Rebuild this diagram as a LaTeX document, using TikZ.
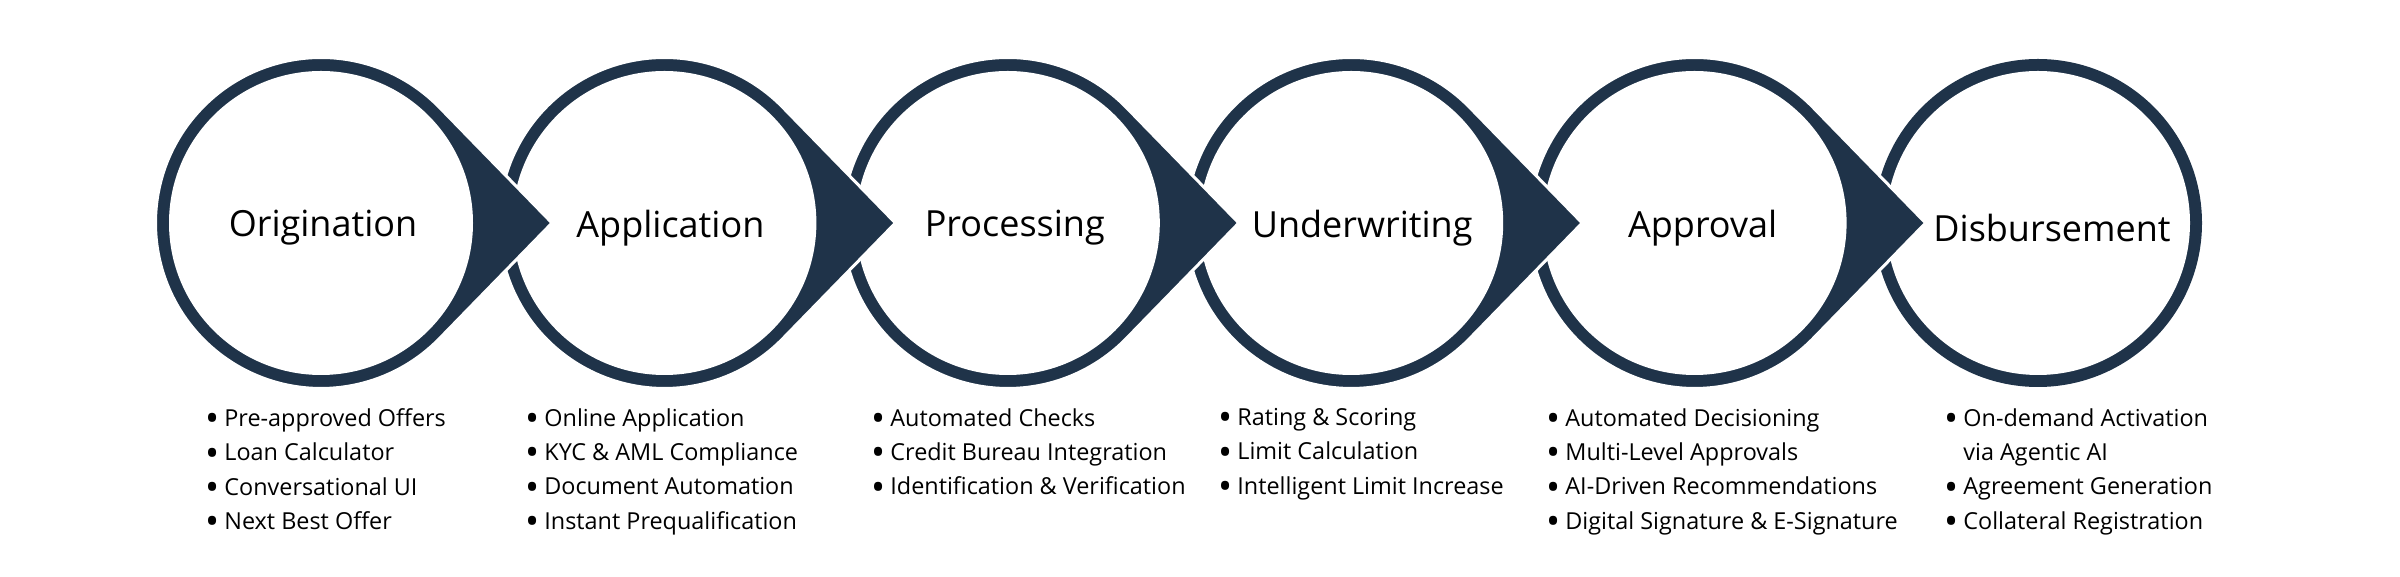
\documentclass[tikz,border=0pt]{standalone}
\usepackage{fontspec}
\setmainfont{Open Sans}
\usepackage{xcolor}
\usepackage{tikz}
\usetikzlibrary{calc,positioning}
\definecolor{navy}{HTML}{1F3349}
\newcommand{\Stage}{\fontsize{18}{22}\selectfont}
\newcommand{\Small}{\fontsize{11.7}{17.2}\selectfont}
\newcommand{\bul}{\makebox[9.5pt][l]{\raisebox{-0.23em}{\scalebox{1.6}{\textbullet}}}}

\begin{document}
\begin{tikzpicture}[x=0.5pt,y=0.5pt]
  \useasboundingbox (0,0) rectangle (2400,577);
  % rings right to left, so each arrow lies over the next ring
  \foreach \i/\nm/\lbl/\dx in {5/disb/Disbursement/14, 4/appr/Approval/8, 3/undw/Underwriting/11,
                               2/proc/Processing/7, 1/appl/Application/6, 0/orig/Origination/2}{
    \coordinate (c\i) at (321+\i*343.4,354);
    \ifnum\i<5
      \filldraw[navy, draw=white, line width=1.5pt] ($(c\i)+(231,0)$) -- ($(c\i)+(44.77:165.5)$)
        arc[start angle=44.77, end angle=315.23, radius=165.5] -- cycle;
    \else
      \fill[navy] (c\i) circle[radius=164];
    \fi
    \fill[white] (c\i) circle[radius=152];
    \node[font=\Stage] (\nm) at ($(c\i)+(\dx,-5)$) {\lbl};
  }
  % bullet lists
  \node[anchor=north west, inner sep=0, font=\Small, align=left] (origlist) at (205,169)
    {\bul Pre-approved Offers\\ \bul Loan Calculator\\ \bul Conversational UI\\ \bul Next Best Offer};
  \node[anchor=north west, inner sep=0, font=\Small, align=left] (appllist) at (525,169)
    {\bul Online Application\\ \bul KYC \& AML Compliance\\ \bul Document Automation\\ \bul Instant Prequalification};
  \node[anchor=north west, inner sep=0, font=\Small, align=left] (proclist) at (871,169)
    {\bul Automated Checks\\ \bul Credit Bureau Integration\\ \bul Identification \& Verification};
  \node[anchor=north west, inner sep=0, font=\Small, align=left] (undwlist) at (1218,169)
    {\bul Rating \& Scoring\\ \bul Limit Calculation\\ \bul Intelligent Limit Increase};
  \node[anchor=north west, inner sep=0, font=\Small, align=left] (apprlist) at (1546,169)
    {\bul Automated Decisioning\\ \bul Multi-Level Approvals\\ \bul AI-Driven Recommendations\\ \bul Digital Signature \& E-Signature};
  \node[anchor=north west, inner sep=0, font=\Small, align=left] (disblist) at (1944,169)
    {\bul On-demand Activation\\ \hspace{9.5pt}via Agentic AI\\ \bul Agreement Generation\\ \bul Collateral Registration};
\end{tikzpicture}
\end{document}
